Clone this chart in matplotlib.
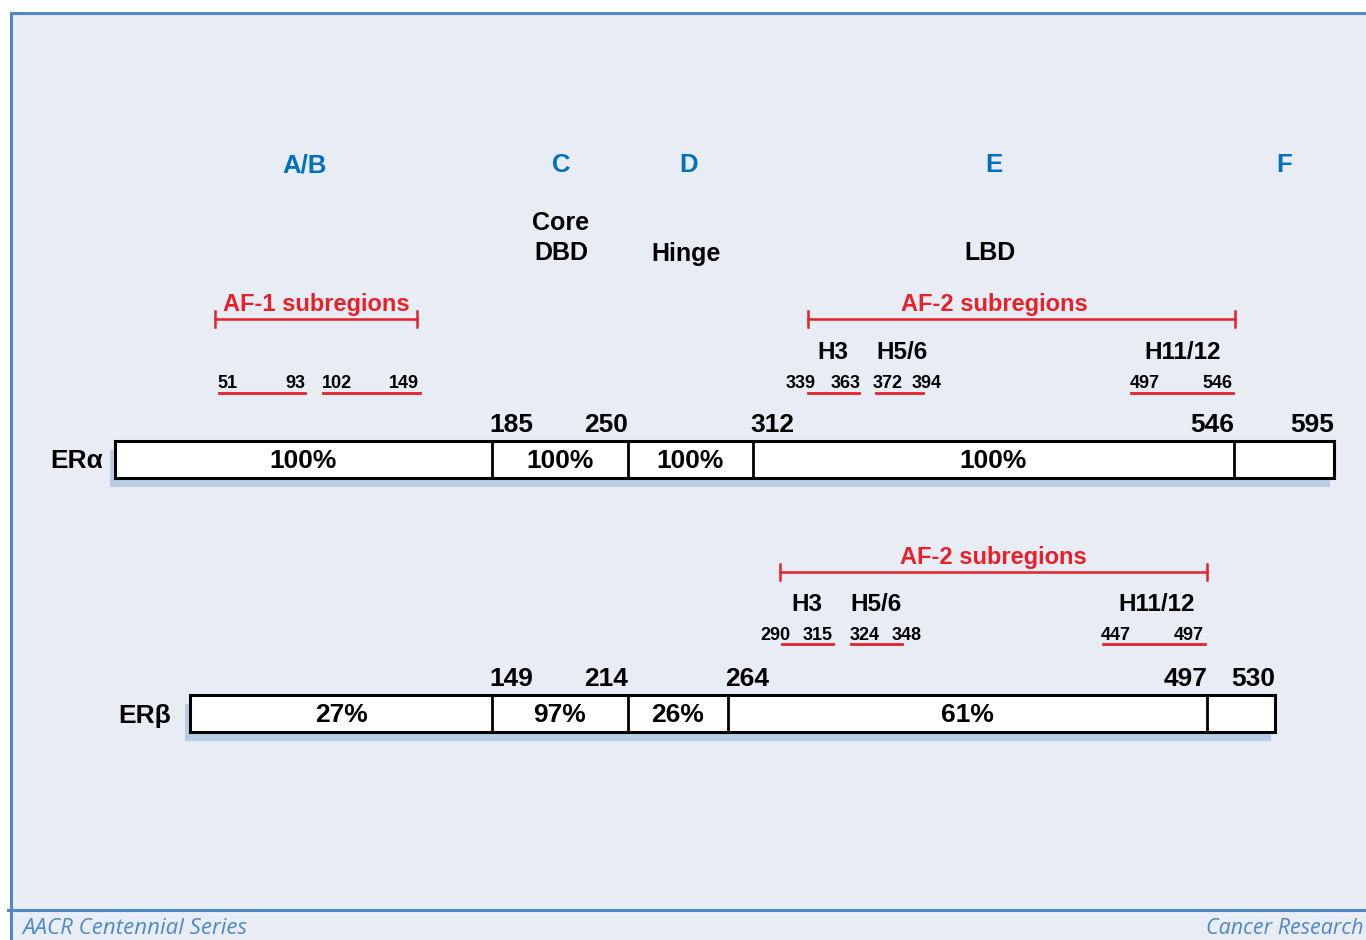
import matplotlib
matplotlib.use("Agg")
import matplotlib.pyplot as plt
from matplotlib.patches import Rectangle

plt.rcParams['font.family'] = ['Liberation Sans', 'DejaVu Sans']

# domain letters and names
domains = ['A/B', 'C', 'D', 'E', 'F']
domain_names = ['', 'Core\nDBD', 'Hinge', 'LBD', '']

# ER alpha: domain boundaries (residues) and identity to ER beta
era_bounds = [1, 185, 250, 312, 546, 595]
era_pct = ['100%', '100%', '100%', '100%', '']
# ER beta
erb_bounds = [1, 149, 214, 264, 497, 530]
erb_pct = ['27%', '97%', '26%', '61%', '']

# subregions
era_af1 = [(51, 93), (102, 149)]
era_af2 = [(339, 363), (372, 394), (497, 546)]
erb_af2 = [(290, 315), (324, 348), (447, 497)]
helix_names = ['H3', 'H5/6', 'H11/12']

# ---- layout (pixel positions of the schematic, not to scale) ----
era_x = [115, 492, 628, 753, 1234, 1334]
erb_x = [190, 492, 628, 728, 1207, 1275]
domain_x = [305, 561, 689, 994, 1284]
name_x = [None, 561, 686, 990, None]
era_af1_seg = [(219, 305, 227, 295), (323, 420, 337, 404)]
era_af2_seg = [(808, 859, 801, 846), (876, 923, 888, 927), (1131, 1233, 1145, 1217)]
erb_af2_seg = [(782, 833, 775, 818), (851, 902, 865, 907), (1103, 1205, 1116, 1189)]
era_helix_x = [833, 902, 1183]
erb_helix_x = [807, 876, 1157]
era_bound_lbl = [None, (492, 'left'), (628, 'right'), (753, 'left'), (1234, 'right'), (1334, 'right')]
erb_bound_lbl = [None, (492, 'left'), (628, 'right'), (728, 'left'), (1207, 'right'), (1275, 'right')]

blue = '#0070C0'
red = '#E8202A'
frame = '#4F88C3'
dy = 1.5  # small baseline nudge

fig = plt.figure(figsize=(13.66, 9.40), dpi=100)
ax = fig.add_axes([0, 0, 1, 1])
ax.set_xlim(0, 1366)
ax.set_ylim(940, 0)
ax.axis('off')

# panel background
ax.add_patch(Rectangle((11, 13), 1360, 935, facecolor='#E8ECF5', edgecolor='none'))
ax.plot([11, 11], [13, 940], color=frame, lw=2.2)
ax.plot([11, 1366], [13, 13], color=frame, lw=2.2)
ax.plot([8, 1366], [910, 910], color=frame, lw=2.2)
ax.text(22, 929, 'AACR Centennial Series', color=frame, fontsize=16, style='italic',
        family='Open Sans', ha='left', va='center')
ax.text(1364, 929, 'Cancer Research', color=frame, fontsize=15.5, style='italic',
        family='Open Sans', ha='right', va='center')

# domain labels
for d, x in zip(domains, domain_x):
    ax.text(x, 164 + dy, d, color=blue, fontsize=18.5, weight='bold', ha='center', va='center')
for n, x in zip(domain_names, name_x):
    lines = n.split('\n')
    for k, line in enumerate(lines):
        if line:
            ax.text(x, 252 + dy - 31 * (len(lines) - 1 - k), line, color='black', fontsize=18,
                    weight='bold', ha='center', va='center')


def bracket(x0, x1, y, label, tx, ty):
    ax.plot([x0, x1], [y, y], color=red, lw=1.8)
    ax.plot([x0, x0], [y - 8, y + 8], color=red, lw=1.8)
    ax.plot([x1, x1], [y - 8, y + 8], color=red, lw=1.8)
    ax.text(tx, ty + dy, label, color=red, fontsize=17, weight='bold',
            ha='center', va='center')


def subregions(regions, segs, y_num, y_line):
    for (a, b), (l0, l1, t0, t1) in zip(regions, segs):
        ax.plot([l0, l1], [y_line, y_line], color=red, lw=2)
        ax.text(t0, y_num + dy, str(a), fontsize=13, weight='bold', ha='center', va='center')
        ax.text(t1, y_num + dy, str(b), fontsize=13, weight='bold', ha='center', va='center')


def protein(xs, y0, y1, pct, bounds, lbls, name, name_x, y_lbl):
    ax.add_patch(Rectangle((xs[0] - 5, y0 + 9), xs[-1] - xs[0] + 1, y1 - y0,
                           facecolor='#B8CCE4', edgecolor='none'))
    ax.add_patch(Rectangle((xs[0], y0), xs[-1] - xs[0], y1 - y0,
                           facecolor='white', edgecolor='black', lw=2.2))
    for x in xs[1:-1]:
        ax.plot([x, x], [y0, y1], color='black', lw=2)
    for i in range(len(xs) - 1):
        if pct[i]:
            ax.text((xs[i] + xs[i + 1]) / 2, (y0 + y1) / 2 + 2, pct[i], fontsize=19,
                    weight='bold', ha='center', va='center')
    for b, l in zip(bounds, lbls):
        if l is None:
            continue
        x, side = l
        ax.text(x if side == 'right' else x - 3, y_lbl + dy, str(b), fontsize=19, weight='bold',
                ha=side, va='center')
    ax.text(name_x, (y0 + y1) / 2 + 2, name, fontsize=19, weight='bold', ha='center', va='center')


# ER alpha
bracket(215, 417, 319, 'AF-1 subregions', 316, 303)
bracket(808, 1235, 319, 'AF-2 subregions', 994, 303)
for h, x in zip(helix_names, era_helix_x):
    ax.text(x, 351 + dy, h, fontsize=17.5, weight='bold', ha='center', va='center')
subregions(era_af1, era_af1_seg, 382, 393)
subregions(era_af2, era_af2_seg, 382, 393)
protein(era_x, 441, 478, era_pct, era_bounds, era_bound_lbl, 'ER\u03b1', 77, 423)

# ER beta
bracket(780, 1207, 572, 'AF-2 subregions', 993, 556)
for h, x in zip(helix_names, erb_helix_x):
    ax.text(x, 603 + dy, h, fontsize=17.5, weight='bold', ha='center', va='center')
subregions(erb_af2, erb_af2_seg, 634, 644)
protein(erb_x, 695, 732, erb_pct, erb_bounds, erb_bound_lbl, 'ER\u03b2', 145, 677)

fig.savefig('out.png', dpi=100)
